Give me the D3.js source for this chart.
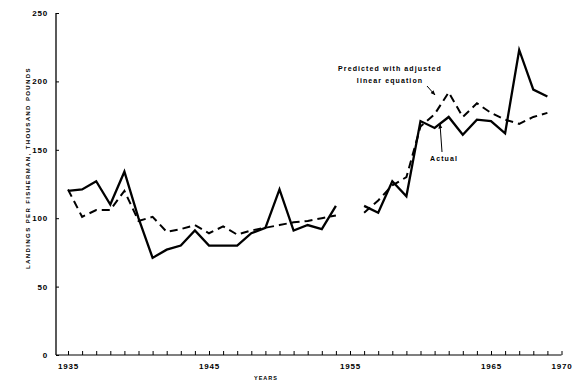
<!DOCTYPE html>
<html>
<head>
<meta charset="utf-8">
<script src="https://cdn.jsdelivr.net/npm/d3@7"></script>
<style>
  html, body { margin: 0; padding: 0; background: #fff; }
  svg { display: block; }
  text { font-family: "Liberation Sans", Arial, sans-serif; font-weight: bold; fill: #000; }
</style>
</head>
<body>
<svg id="chart" width="583" height="382"></svg>
<script>
// Landings per fisherman (thousand pounds), actual vs. predicted
const yearsEarly = d3.range(1935, 1955);          // 1935–1954
const actualEarly = [120, 121, 127, 110, 134, 100, 71, 77, 80, 91,
                     80, 80, 80, 89, 93, 121, 91, 95, 92, 109];
const predictedEarly = [121, 101, 106, 106, 120, 98, 101, 90, 92, 95,
                        89, 94, 88, 91, 93, 95, 97, 98, 100, 102];

const yearsLate = d3.range(1956, 1970);           // 1956–1969
const actualLate = [109, 104, 127, 116, 171, 166, 174, 161, 172, 171,
                    162, 223, 194, 189];
const predictedLate = [104, 113, 124, 130, 167, 176, 192, 174, 184, 177,
                       172, 169, 174, 177];

const yTicks = [0, 50, 100, 150, 200, 250];
const xTickYears = d3.range(1935, 1971);
const xLabelYears = [1935, 1945, 1955, 1965, 1970];

const svg = d3.select("#chart");

const x = d3.scaleLinear().domain([1935, 1970]).range([68, 561.5]);
const y = d3.scaleLinear().domain([0, 250]).range([355, 13]);
const axisLeftX = 56;

// Y axis
const yAxis = d3.axisLeft(y)
  .tickValues(yTicks)
  .tickSize(-3)
  .tickPadding(8)
  .tickFormat(d3.format("d"));
const gy = svg.append("g").attr("transform", `translate(${axisLeftX},0)`).call(yAxis);
gy.select(".domain").remove();
gy.selectAll(".tick line").attr("stroke", "#000").attr("stroke-width", 1);
gy.selectAll(".tick text").attr("font-size", 8).attr("letter-spacing", 0.8);
svg.append("line")
  .attr("x1", axisLeftX).attr("x2", axisLeftX)
  .attr("y1", y(250)).attr("y2", y(0))
  .attr("stroke", "#000").attr("stroke-width", 1.3);

// X axis
const xAxis = d3.axisBottom(x)
  .tickValues(xTickYears)
  .tickSize(-4)
  .tickPadding(8)
  .tickFormat(d => xLabelYears.includes(d) ? String(d) : "");
const gx = svg.append("g").attr("transform", `translate(0,${y(0)})`).call(xAxis);
gx.select(".domain").remove();
gx.selectAll(".tick line").attr("stroke", "#000").attr("stroke-width", 1);
gx.selectAll(".tick text").attr("font-size", 8).attr("letter-spacing", 0.8);
svg.append("line")
  .attr("x1", axisLeftX).attr("x2", x(1970))
  .attr("y1", y(0)).attr("y2", y(0))
  .attr("stroke", "#000").attr("stroke-width", 1.1);

// Axis titles
svg.append("text")
  .attr("transform", `translate(30,${(y(0) + y(250)) / 2 - 16}) rotate(-90)`)
  .attr("text-anchor", "middle")
  .attr("font-size", 6)
  .attr("letter-spacing", 1.4)
  .text("LANDINGS PER FISHERMAN, THOUSAND POUNDS");

svg.append("text")
  .attr("x", 266).attr("y", 380)
  .attr("text-anchor", "middle")
  .attr("font-size", 5.5)
  .attr("letter-spacing", 1)
  .text("YEARS");

// Series
const line = d3.line().x(d => x(d[0])).y(d => y(d[1]));
const zip = (ys, vs) => ys.map((yr, i) => [yr, vs[i]]);

const drawActual = data => svg.append("path")
  .datum(data)
  .attr("fill", "none")
  .attr("stroke", "#000")
  .attr("stroke-width", 2.3)
  .attr("stroke-linejoin", "miter")
  .attr("d", line);

const drawPredicted = data => svg.append("path")
  .datum(data)
  .attr("fill", "none")
  .attr("stroke", "#000")
  .attr("stroke-width", 2)
  .attr("stroke-dasharray", "8,5")
  .attr("d", line);

drawPredicted(zip(yearsEarly, predictedEarly));
drawPredicted(zip(yearsLate, predictedLate));
drawActual(zip(yearsEarly, actualEarly));
drawActual(zip(yearsLate, actualLate));

// Annotations
const defs = svg.append("defs");
defs.append("marker")
  .attr("id", "arrow")
  .attr("viewBox", "0 0 10 10")
  .attr("refX", 9).attr("refY", 5)
  .attr("markerWidth", 5).attr("markerHeight", 5)
  .attr("orient", "auto")
  .append("path").attr("d", "M0,1 L10,5 L0,9 Z").attr("fill", "#000");

svg.append("text")
  .attr("x", 390).attr("y", 71)
  .attr("text-anchor", "middle")
  .attr("font-size", 7)
  .attr("letter-spacing", 1.1)
  .text("Predicted with adjusted");
svg.append("text")
  .attr("x", 390).attr("y", 83)
  .attr("text-anchor", "middle")
  .attr("font-size", 7)
  .attr("letter-spacing", 1.1)
  .text("linear equation");
svg.append("line")
  .attr("x1", 427).attr("y1", 86)
  .attr("x2", 435).attr("y2", 95)
  .attr("stroke", "#000").attr("stroke-width", 1)
  .attr("marker-end", "url(#arrow)");

svg.append("text")
  .attr("x", 444).attr("y", 161)
  .attr("text-anchor", "middle")
  .attr("font-size", 7)
  .attr("letter-spacing", 1.1)
  .text("Actual");
svg.append("line")
  .attr("x1", 442).attr("y1", 152)
  .attr("x2", 440).attr("y2", 124)
  .attr("stroke", "#000").attr("stroke-width", 1)
  .attr("marker-end", "url(#arrow)");
</script>
</body>
</html>
